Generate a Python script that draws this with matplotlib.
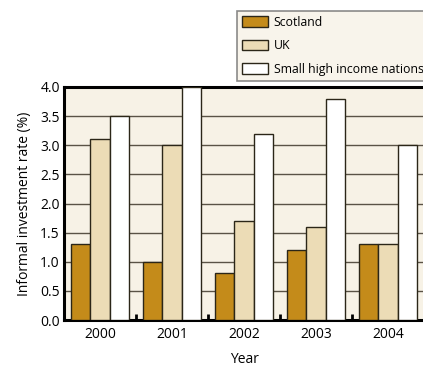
import matplotlib
matplotlib.use("Agg")
import matplotlib.pyplot as plt
import numpy as np

years = ["2000", "2001", "2002", "2003", "2004"]
scotland = [1.3, 1.0, 0.8, 1.2, 1.3]
uk = [3.1, 3.0, 1.7, 1.6, 1.3]
small_nations = [3.5, 4.0, 3.2, 3.8, 3.0]
series_names = ["Scotland", "UK", "Small high income nations"]
y_ticks = [0.0, 0.5, 1.0, 1.5, 2.0, 2.5, 3.0, 3.5, 4.0]

plt.rcParams["font.family"] = ["Open Sans", "DejaVu Sans"]

colors = ["#c48b1a", "#ecdcb6", "#ffffff"]
edge = "#2b2618"
bg = "#f7f2e6"

fig = plt.figure(figsize=(4.23, 3.68), dpi=100)
ax = fig.add_axes([64 / 423, 1 - 320 / 368, 360 / 423, 233 / 368])
ax.set_facecolor(bg)

x = np.arange(len(years))
w = 0.27
for i, (vals, c, name) in enumerate(zip([scotland, uk, small_nations], colors, series_names)):
    ax.bar(x + (i - 1) * w, vals, width=w, color=c, edgecolor=edge,
           linewidth=1.0, label=name, zorder=3)

ax.set_xlim(-0.5, 4.5)
ax.set_ylim(0, 4.0)
ax.set_yticks(y_ticks)
ax.set_yticklabels([f"{v:.1f}" for v in y_ticks], fontsize=10)
ax.set_xticks(x)
ax.set_xticklabels(years, fontsize=10)
ax.set_xticks(x[:-1] + 0.5, minor=True)
ax.tick_params(axis="x", which="major", length=0, pad=5)
ax.tick_params(axis="x", which="minor", direction="in", length=4, width=2, color="black")
ax.tick_params(axis="y", length=0, pad=3)

ax.yaxis.grid(True, color="#5a5346", linewidth=1.0, zorder=1)
ax.set_axisbelow(True)

for s in ["left", "bottom", "top"]:
    ax.spines[s].set_linewidth(2.2)
    ax.spines[s].set_color("black")
ax.spines["right"].set_visible(False)

ax.set_ylabel("Informal investment rate (%)", fontsize=10, labelpad=6)
ax.set_xlabel("Year", fontsize=10, labelpad=7)

leg = fig.legend(loc="upper left",
                 bbox_to_anchor=(237 / 423, 1 - 81 / 368, 200 / 423, 70 / 368),
                 mode="expand",
                 fontsize=8.8, frameon=True, fancybox=False, borderpad=0.4,
                 handlelength=2.1, handleheight=0.95, handletextpad=0.5,
                 labelspacing=0.85, borderaxespad=0)
leg.get_frame().set_facecolor(bg)
leg.get_frame().set_edgecolor("#6e6e6e")
leg.get_frame().set_linewidth(1.2)

fig.savefig("out.png", dpi=100)
